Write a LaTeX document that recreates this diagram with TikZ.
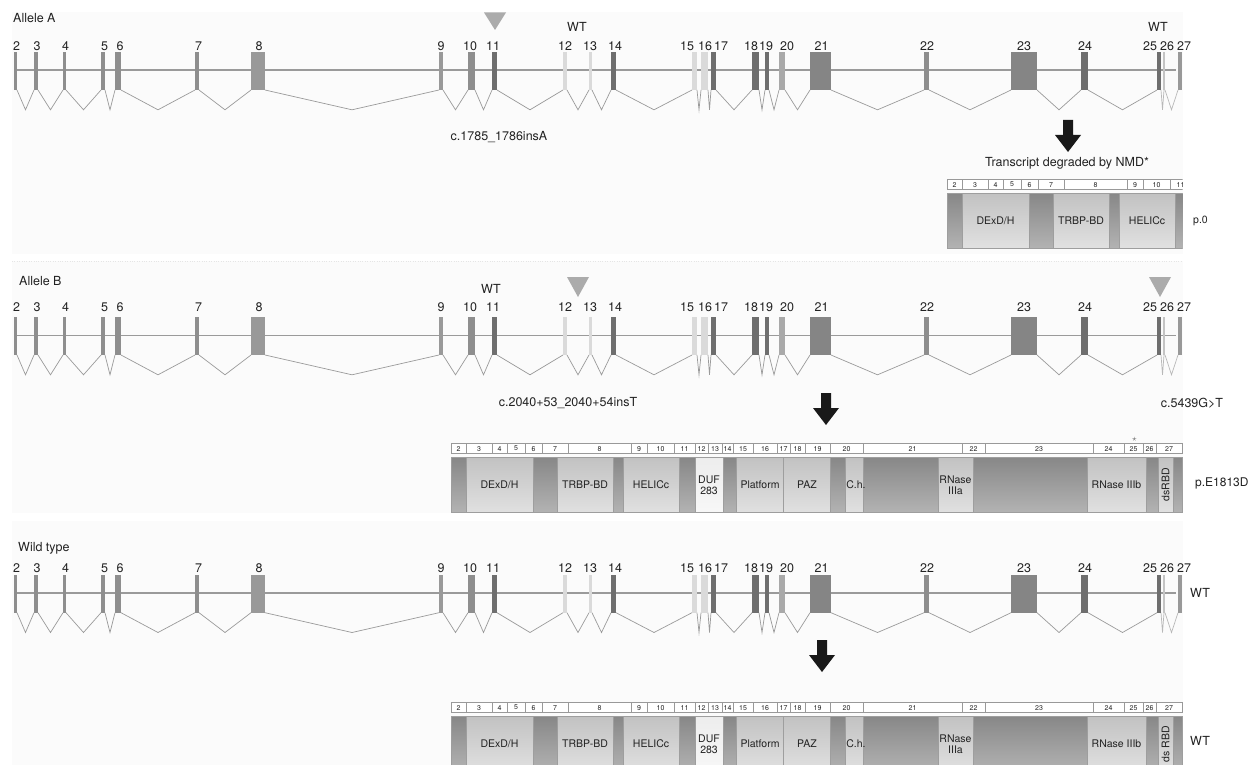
\documentclass[tikz,border=0pt]{standalone}
\usepackage{fontspec}
\setmainfont{TeX Gyre Heros}
\definecolor{exn}{HTML}{8E8E8E}
\definecolor{exd}{HTML}{6E6E6E}
\definecolor{exl}{HTML}{DADADA}
\definecolor{exm}{HTML}{A9A9A9}
\definecolor{exb}{HTML}{858585}
\definecolor{exs}{HTML}{999999}
\definecolor{exw}{HTML}{C4C4C4}
\definecolor{bone}{HTML}{9A9A9A}
\definecolor{panelc}{HTML}{FBFBFB}
\definecolor{txt}{HTML}{222222}
\tikzset{
  num/.style={font=\fontsize{12.5}{14}\selectfont, inner sep=0pt, text=txt},
  lbl/.style={font=\fontsize{12.5}{14}\selectfont, inner sep=0pt, text=txt},
  dom/.style={font=\fontsize{10.5}{11.5}\selectfont, inner sep=0pt, text=txt, align=center},
  cell/.style={font=\fontsize{7}{7}\selectfont, inner sep=0pt, text=txt},
  backbone/.style={draw=bone, line width=1.6pt},
  splice/.style={draw=bone, line width=0.7pt},
  cellline/.style={draw=black!40, line width=0.4pt},
  segline/.style={draw=black!38, line width=0.4pt},
  dk/.style={top color=black!47, bottom color=black!30},
  lt/.style={top color=black!24, bottom color=black!12},
  vl/.style={top color=black!7, bottom color=black!3},
  tri/.style={fill=black!33},
  blkarrow/.style={fill=black!90},
  panel/.style={fill=panelc}
}
\newcommand\generow[3]{%
\begin{scope}[shift={(0,#1)}]
  \draw[backbone] (14,0) -- (1176,0);
  \foreach \r/\l in {17/34,38/63,66/101,105/115,121/195,199/251,265/439,443/468,475/492,497/563,567/589,592/611,616/692,697/701,708/711,716/752,759/765,769/779,785/810,831/924,929/1011,1037/1081,1088/1157}{
    \draw[splice] (\r,19.7) -- ({(\r+\l)/2},39.5) -- (\l,19.7);
  }
  \draw[splice, draw=black!28] (1161,19.7) -- (1162.5,39.5) -- (1164,19.7);
  \draw[splice, draw=black!28] (1165,19.7) -- (1171.5,39.5) -- (1178,19.7);
  \foreach \a/\b/\c/\n/\lx in {14/17/exn/2/16.5,34/38/exn/3/37,63/66/exn/4/65.5,101/105/exn/5/104.5,115/121/exn/6/120,195/199/exn/7/198.5,251/265/exs/8/259,439/443/exs/9/441,468/475/exn/10/470,492/497/exd/11/493,563/567/exl/12/565,589/592/exl/13/590,611/616/exd/14/615,692/697/exl/15/687,701/708/exl/16/705,711/716/exd/17/721,752/759/exd/18/751,765/769/exd/19/766,779/785/exm/20/787,810/831/exb/21/821.5,924/929/exn/22/927,1011/1037/exb/23/1024,1081/1088/exd/24/1085,1157/1161/exd/25/1150,1163/1165/exw/26/1167,1178/1182/exs/27/1184}{
    \fill[fill=\c] (\a,-18.5) rectangle (\b,19.7);
    \node[num] (#3\n) at (\lx,#2) {\n};
  }
\end{scope}}
% #1 x shift, #2 top y, #3 name prefix, #4 cut-off (local x)
\newcommand\protbar[4]{%
\begin{scope}[shift={(#1,#2)}]
  \foreach \a/\b/\s in {451/466/dk,466/533/lt,533/557/dk,557/613/lt,613/623/dk,623/679/lt,679/695/dk,695/723/vl,723/736/dk,736/783/lt,783/830/lt,830/845/dk,845/863/lt,863/938/dk,938/973/lt,973/1087/dk,1087/1146/lt,1146/1158/dk,1158/1173/lt,1173/1182/dk}{
    \ifdim\a pt<#4pt
      \shade[\s] (\a,14) rectangle (\b,69);
      \draw[segline] (\a,14) -- (\a,69);
    \fi
  }
  \draw[segline] (451,14) rectangle (1182,69);
  \draw[cellline, fill=white] (451,0) rectangle (1182,10.5);
  \foreach \a/\b/\n in {451/466/2,466/492/3,492/507/4,507/525/5,525/542/6,542/568/7,568/631/8,631/647/9,647/674/10,674/695/11,695/708/12,708/722/13,722/733/14,733/753/15,753/777/16,777/790/17,790/805/18,805/830/19,830/863/20,863/962/21,962/985/22,985/1093/23,1093/1124/24,1124/1143/25,1143/1156/26,1156/1182/27}{
    \ifdim\a pt<#4pt
      \draw[cellline] (\b,0) -- (\b,10.5);
      \node[cell] (#3c\n) at ({(\a+\b)/2},5.6) {\n};
    \fi
  }
\end{scope}}
\newcommand\blockarrow[2]{%
  \fill[blkarrow] (#1-5,#2) -- (#1+5,#2) -- (#1+5,#2+15) -- (#1+13,#2+15) -- (#1,#2+32) -- (#1-13,#2+15) -- (#1-5,#2+15) -- cycle;
}
\begin{document}
\begin{tikzpicture}[x=1pt,y=-1pt]
\path[use as bounding box] (0,0) rectangle (1255,765);
\clip (0,0) rectangle (1255,765);
% panels
\fill[panel] (12,12) rectangle (1183,254);
\fill[panel] (12,261) rectangle (1183,513);
\fill[panel] (12,521) rectangle (1183,770);
\draw[black!10, dotted] (12,261) -- (1183,261);
% ---------------- Allele A
\node[lbl, anchor=west] (labA) at (13,18) {Allele A};
\generow{70.3}{-24.3}{A}
\fill[tri] (484,12.5) -- (506,12.5) -- (495,30) -- cycle;
\node[lbl] (wtA1) at (577,27) {WT};
\node[lbl] (wtA2) at (1158,27) {WT};
\node[lbl] (mutA) at (499,137) {c.1785\_1786insA};
\blockarrow{1068}{120}
\node[lbl] (nmd) at (1067,163) {Transcript degraded by NMD*};
\begin{scope}
  \clip (940,170) rectangle (1182.5,252);
  \protbar{496}{179}{PA}{686}
  \begin{scope}[shift={(496,179)}]
    \node[dom] (PAdexd) at (499.5,42) {DExD/H};
    \node[dom] (PAtrbp) at (585,42) {TRBP-BD};
    \node[dom] (PAhelic) at (651,42) {HELICc};
  \end{scope}
\end{scope}
\node[dom, anchor=west] (p0) at (1193,221) {p.0};
% ---------------- Allele B
\node[lbl, anchor=west] (labB) at (19,281) {Allele B};
\generow{335.3}{-28.5}{B}
\fill[tri] (567,277) -- (589,277) -- (578,297) -- cycle;
\fill[tri] (1149,277) -- (1171,277) -- (1160,297) -- cycle;
\node[lbl] (wtB) at (491,289) {WT};
\node[lbl] (mutB1) at (568,403) {c.2040+53\_2040+54insT};
\node[lbl] (mutB2) at (1192,403) {c.5439G>T};
\blockarrow{826}{393}
\protbar{0}{443}{PB}{2000}
\begin{scope}[shift={(0,443)}]
  \node[dom] (PBdexd) at (499.5,42) {DExD/H};
  \node[dom] (PBtrbp) at (585,42) {TRBP-BD};
  \node[dom] (PBhelic) at (651,42) {HELICc};
  \node[dom] (PBduf) at (709,42) {DUF\\283};
  \node[dom] (PBplat) at (760,42) {Platform};
  \node[dom] (PBpaz) at (807,42) {PAZ};
  \node[dom] (PBch) at (856,42) {C.h.};
  \node[dom] (PBrna) at (955.5,42) {RNase\\IIIa};
  \node[dom] (PBrnb) at (1116.5,42) {RNase IIIb};
  \node[dom, rotate=90] (PBds) at (1165.5,42) {dsRBD};
\end{scope}
\node[font=\fontsize{9}{9}\selectfont, text=black!55, inner sep=0pt] (star) at (1134.5,439) {$\star$};
\node[lbl, anchor=west, font=\fontsize{12}{14}\selectfont] (pB) at (1195,483) {p.E1813D};
% ---------------- Wild type
\node[lbl, anchor=west] (labW) at (18,548) {Wild type};
\generow{593}{-25}{W}
\node[lbl, anchor=west] (wtW1) at (1190,593) {WT};
\blockarrow{822}{640}
\protbar{0}{702}{PW}{2000}
\begin{scope}[shift={(0,702)}]
  \node[dom] (PWdexd) at (499.5,42) {DExD/H};
  \node[dom] (PWtrbp) at (585,42) {TRBP-BD};
  \node[dom] (PWhelic) at (651,42) {HELICc};
  \node[dom] (PWduf) at (709,42) {DUF\\283};
  \node[dom] (PWplat) at (760,42) {Platform};
  \node[dom] (PWpaz) at (807,42) {PAZ};
  \node[dom] (PWch) at (856,42) {C.h.};
  \node[dom] (PWrna) at (955.5,42) {RNase\\IIIa};
  \node[dom] (PWrnb) at (1116.5,42) {RNase IIIb};
  \node[dom, rotate=90] (PWds) at (1165.5,42) {ds RBD};
\end{scope}
\node[lbl, anchor=west] (wtW2) at (1190,741) {WT};
\end{tikzpicture}
\end{document}
